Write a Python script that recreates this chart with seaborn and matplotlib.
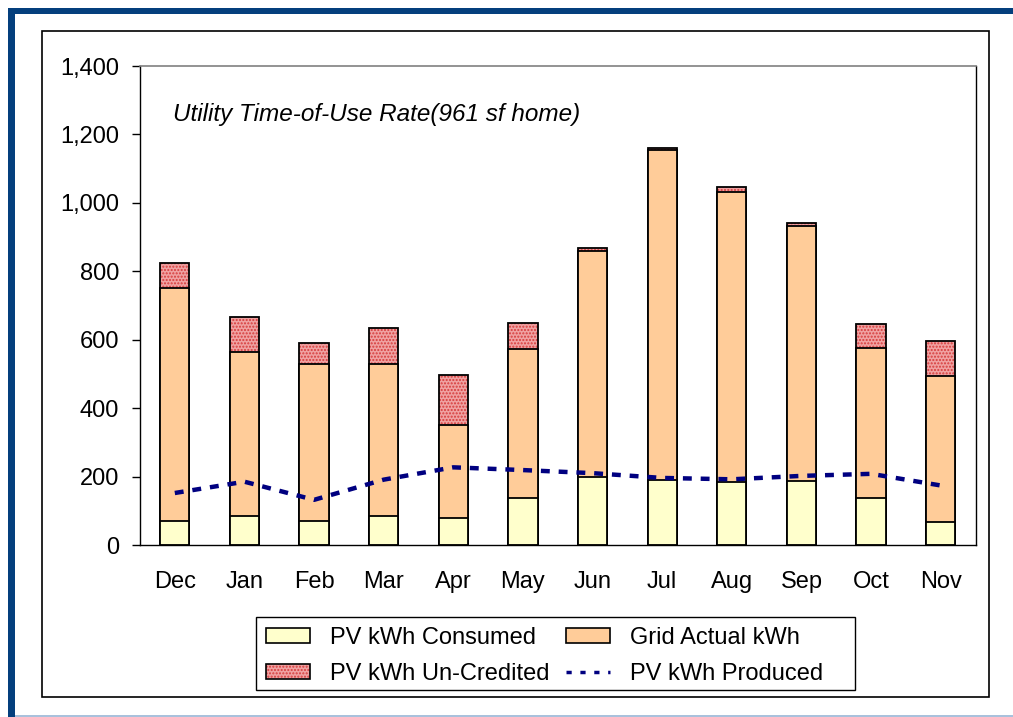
import numpy as np
import pandas as pd
import seaborn as sns
import matplotlib
matplotlib.use("Agg")
import matplotlib.pyplot as plt
from matplotlib.patches import Patch, Rectangle
from matplotlib.lines import Line2D
from matplotlib.legend_handler import HandlerTuple
from matplotlib.ticker import FuncFormatter

# values (kWh)
months = ["Dec", "Jan", "Feb", "Mar", "Apr", "May", "Jun", "Jul", "Aug", "Sep", "Oct", "Nov"]
pv_consumed = [70, 85, 70, 85, 80, 138, 200, 191, 183, 186, 138, 67]
grid_actual = [680, 479, 458, 443, 271, 435, 658, 964, 848, 746, 439, 426]
pv_uncredited = [75, 101, 63, 107, 146, 76, 9, 4, 14, 10, 68, 103]
pv_produced = [152, 185, 132, 191, 227, 219, 210, 196, 192, 202, 208, 174]

df = pd.DataFrame({"month": months, "consumed": pv_consumed,
                   "grid": grid_actual, "uncredited": pv_uncredited})
df["grid_top"] = df["consumed"] + df["grid"]
df["total"] = df["grid_top"] + df["uncredited"]

yellow = "#FFFFCC"
peach = "#FFCC99"
pink = "#f0a2a2"
red = "#d63c3c"
navy = "#000080"

sns.set_style("white")
plt.rcParams["font.family"] = ["Liberation Sans", "DejaVu Sans"]
plt.rcParams["hatch.linewidth"] = 1.0
for k in ["text.color", "xtick.color", "ytick.color", "axes.labelcolor"]:
    plt.rcParams[k] = "black"

fig = plt.figure(figsize=(10.13, 7.17), dpi=100)
ax = fig.add_axes([140 / 1013, 1 - 545 / 717, 835.5 / 1013, 479 / 717])

bw = 0.42


def bars(col, face, edge, lw, hatch=None, fill=True):
    n = len(ax.patches)
    sns.barplot(data=df, x="month", y=col, color=face, saturation=1,
                width=bw, errorbar=None, ax=ax)
    for p in ax.patches[n:]:
        p.set_facecolor(face if fill else "none")
        p.set_edgecolor(edge)
        p.set_linewidth(lw)
        if hatch:
            p.set_hatch(hatch)


# stacked look: totals first, then lower segments drawn over them
bars("total", pink, red, 0, hatch=".....")
bars("total", pink, "black", 1.3, fill=False)
bars("grid_top", peach, "black", 1.3)
bars("consumed", yellow, "black", 1.3)

ax.plot(np.arange(len(months)), pv_produced, color=navy, lw=3.2,
        linestyle=(0, (2, 2)), dash_capstyle="butt", zorder=6)

ax.set_xlim(-0.5, len(months) - 0.5)
ax.set_ylim(0, 1400)
ax.set_yticks(range(0, 1401, 200))
ax.yaxis.set_major_formatter(FuncFormatter(lambda v, _: f"{int(v):,}"))
ax.set_xticks(range(len(months)))
ax.set_xticklabels(months)
ax.set_xticks(np.arange(-0.5, len(months), 1), minor=True)
ax.set_xlabel("")
ax.set_ylabel("")
ax.tick_params(axis="x", which="major", length=0, pad=19, labelsize=17)
ax.tick_params(axis="x", which="minor", length=5, width=1, direction="out", color="black")
ax.tick_params(axis="y", length=6, width=1, direction="out", pad=9, labelsize=17, color="black", left=True)
for s in ["left", "bottom", "right"]:
    ax.spines[s].set_color("black")
    ax.spines[s].set_linewidth(1)
ax.spines["top"].set_color("#808080")
ax.spines["top"].set_linewidth(1.2)

fig.text(173 / 1013, 1 - 115 / 717, "Utility Time-of-Use Rate(961 sf home)",
         style="italic", fontsize=17.5, ha="left", va="center")

W, H = 1013, 717
handles = [
    Patch(facecolor=yellow, edgecolor="black", lw=1.2),
    (Patch(facecolor=pink, edgecolor=red, lw=0, hatch="....."),
     Patch(fill=False, edgecolor="black", lw=1.2)),
    Patch(facecolor=peach, edgecolor="black", lw=1.2),
    Line2D([], [], color=navy, lw=2.5, linestyle=(0, (1.5, 2.5))),
]
labels = ["PV kWh Consumed", "PV kWh Un-Credited", "Grid Actual kWh", "PV kWh Produced"]
leg = fig.legend(handles, labels, handler_map={tuple: HandlerTuple(ndivide=1, pad=0)},
                 ncol=2, loc="upper left", bbox_to_anchor=(266 / W, 1 - 627 / H),
                 fontsize=17, frameon=False,
                 handlelength=1.86, handleheight=0.6, handletextpad=0.85,
                 columnspacing=0.7, borderpad=0, labelspacing=0.6,
                 borderaxespad=0)
# legend frame as in the original (wider on the right)
fig.add_artist(Rectangle((256 / W, 1 - 690 / H), 599 / W, 73 / H,
                         transform=fig.transFigure, fill=False, edgecolor="black", lw=1))

# outer chart box and page frame
fig.add_artist(Rectangle((41.7 / W, 1 - 697 / H), (989 - 41.7) / W, (697 - 31) / H,
                         transform=fig.transFigure, fill=False, edgecolor="black", lw=1.2))
navy_frame = "#043f7d"
fig.add_artist(Rectangle((8 / W, 0), 7 / W, 1 - 8 / H, transform=fig.transFigure,
                         facecolor=navy_frame, edgecolor="none"))
fig.add_artist(Rectangle((8 / W, 1 - 14 / H), 1 - 8 / W, 6 / H, transform=fig.transFigure,
                         facecolor=navy_frame, edgecolor="none"))
fig.add_artist(Rectangle((15 / W, 0), 1 - 15 / W, 2 / H, transform=fig.transFigure,
                         facecolor="#a9c1dc", edgecolor="none"))

fig.savefig("out.png", dpi=100)
